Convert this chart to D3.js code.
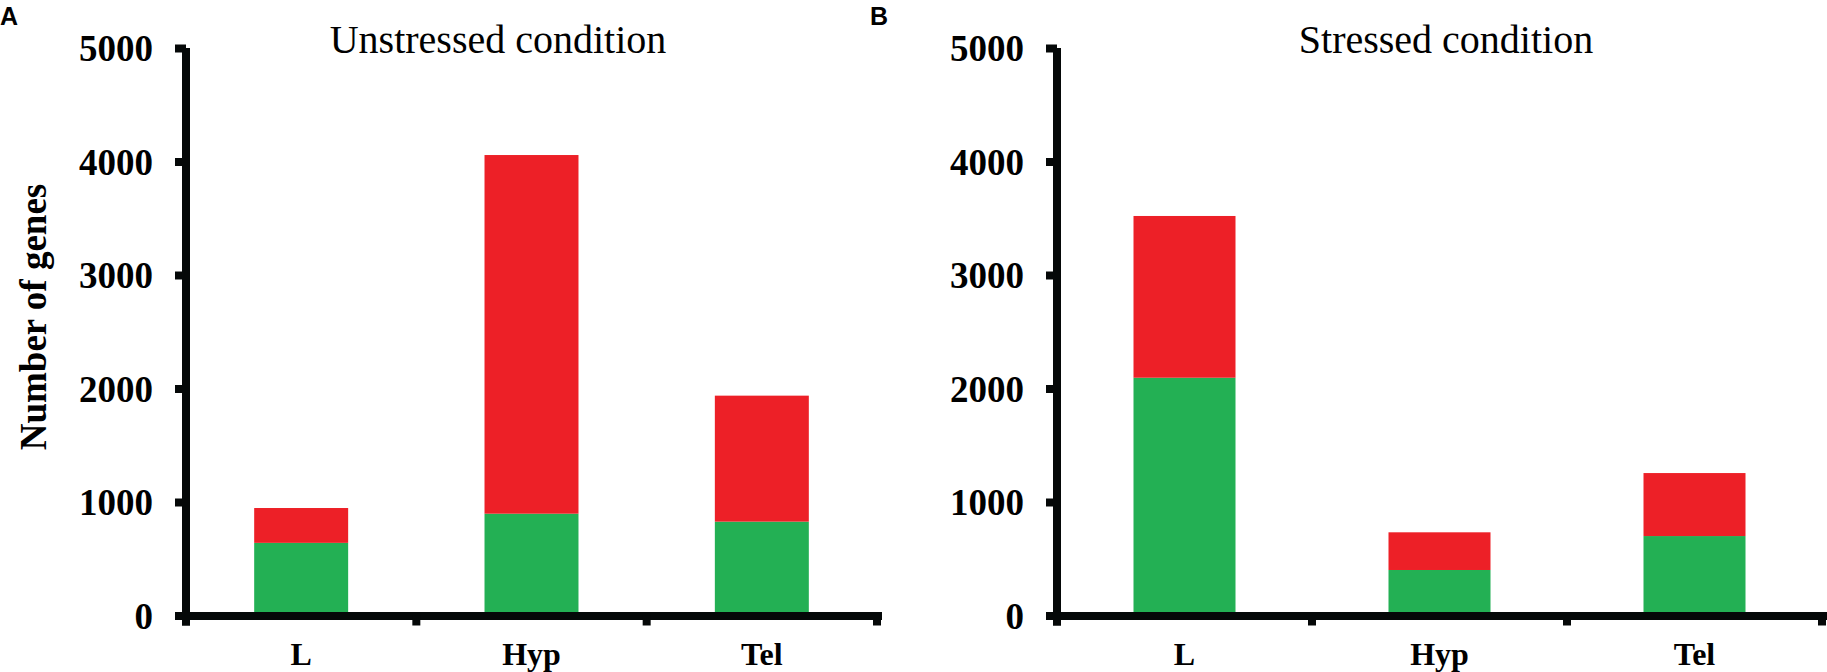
<!DOCTYPE html>
<html>
<head>
<meta charset="utf-8">
<script src="https://cdn.jsdelivr.net/npm/d3@7"></script>
<style>
  html, body { margin: 0; padding: 0; background: #fff; }
  svg { display: block; }
</style>
</head>
<body>
<svg id="chart" width="1827" height="672"></svg>
<script>
// ---- Data ----
const categories = ["L", "Hyp", "Tel"];
const yTicks = [0, 1000, 2000, 3000, 4000, 5000];
// Unstressed condition (panel A)
const unstressedGreen = [640, 897, 827];
const unstressedRed   = [307, 3160, 1110];
// Stressed condition (panel B)
const stressedGreen = [2095, 401, 700];
const stressedRed   = [1425, 332, 555];

const panelTitles = ["Unstressed condition", "Stressed condition"];
const panelLetters = ["A", "B"];
const yLabel = "Number of genes";

const GREEN = "#23b054";
const RED = "#ed2027";
const SERIF = "'Liberation Serif', 'Times New Roman', serif";
const SANS = "'Liberation Sans', Arial, sans-serif";

const svg = d3.select("#chart");

const panels = [
  { green: unstressedGreen, red: unstressedRed, title: panelTitles[0], letter: panelLetters[0],
    axisX: 186, xEnd: 877, pad: 0.592, titleX: 498, letterX: 0 },
  { green: stressedGreen, red: stressedRed, title: panelTitles[1], letter: panelLetters[1],
    axisX: 1057, xEnd: 1822, pad: 0.6, titleX: 1446, letterX: 870 }
];

const y = d3.scaleLinear().domain([0, 5000]).range([615.5, 48]);
const baseY = y(0);

panels.forEach((p, pi) => {
  const g = svg.append("g");
  const x = d3.scaleBand().domain(categories).range([p.axisX, p.xEnd])
    .paddingInner(p.pad).paddingOuter(p.pad / 2);

  const rows = categories.map((c, i) => ({ cat: c, green: p.green[i], red: p.red[i] }));
  const stack = d3.stack().keys(["green", "red"])(rows);
  const colors = { green: GREEN, red: RED };

  stack.forEach(layer => {
    g.append("g").attr("fill", colors[layer.key])
      .selectAll("rect").data(layer).join("rect")
      .attr("x", d => x(d.data.cat))
      .attr("width", x.bandwidth())
      .attr("y", d => y(d[1]))
      .attr("height", d => y(d[0]) - y(d[1]));
  });

  // Y axis
  const yAxis = d3.axisLeft(y).tickValues(yTicks).tickFormat(d3.format("d"))
    .tickSize(11).tickPadding(22).tickSizeOuter(0);
  const ya = g.append("g").attr("transform", `translate(${p.axisX},0)`).call(yAxis);
  ya.select(".domain").attr("stroke", "#050808").attr("stroke-width", 8)
    .attr("d", `M0,${y(5000)}V${baseY + 10}`);
  ya.selectAll(".tick line").attr("stroke", "#050808").attr("stroke-width", 8);
  ya.selectAll(".tick text")
    .attr("font-family", SERIF).attr("font-weight", "bold").attr("font-size", 37)
    .attr("fill", "#000").attr("dy", "0.34em");

  // X axis (line + boundary ticks + labels)
  const step = x.step();
  const firstEdge = x(categories[0]) - (step - x.bandwidth()) / 2;
  const edges = d3.range(categories.length + 1).map(i => firstEdge + i * step);
  const xa = g.append("g");
  xa.append("line")
    .attr("x1", p.axisX - 4).attr("x2", p.xEnd + 5)
    .attr("y1", baseY + 0.5).attr("y2", baseY + 0.5)
    .attr("stroke", "#050808").attr("stroke-width", 8);
  xa.selectAll("line.edge").data(edges).join("line").attr("class", "edge")
    .attr("x1", d => d).attr("x2", d => d)
    .attr("y1", baseY).attr("y2", baseY + 10)
    .attr("stroke", "#050808").attr("stroke-width", 8);

  const xLab = d3.axisBottom(x).tickSize(0).tickPadding(0);
  const xl = g.append("g").attr("transform", `translate(0,${baseY})`).call(xLab);
  xl.select(".domain").remove();
  xl.selectAll(".tick text")
    .attr("font-family", SERIF).attr("font-weight", "bold").attr("font-size", 32)
    .attr("fill", "#000").attr("dy", null).attr("y", 49.5);

  // Title
  g.append("text").attr("x", p.titleX).attr("y", 53)
    .attr("text-anchor", "middle").attr("font-family", SERIF).attr("font-size", 40)
    .attr("fill", "#000").text(p.title);

  // Panel letter
  g.append("text").attr("x", p.letterX).attr("y", 25)
    .attr("font-family", SANS).attr("font-weight", "bold").attr("font-size", 25)
    .attr("fill", "#000").text(p.letter);
});

// Y label (panel A only)
svg.append("text")
  .attr("transform", "translate(46,317) rotate(-90)")
  .attr("text-anchor", "middle")
  .attr("font-family", SERIF).attr("font-weight", "bold").attr("font-size", 37)
  .attr("fill", "#000").text(yLabel);
</script>
</body>
</html>
